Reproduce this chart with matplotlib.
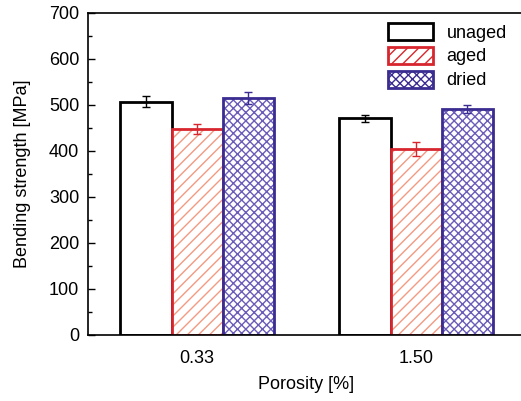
import matplotlib
matplotlib.use("Agg")
import matplotlib.pyplot as plt
from matplotlib.patches import Patch
from matplotlib.ticker import MultipleLocator
import numpy as np

plt.rcParams['font.family'] = ['Liberation Sans', 'DejaVu Sans']
plt.rcParams['hatch.linewidth'] = 1.0

porosity = ["0.33", "1.50"]
unaged = [507, 471]
unaged_err = [12, 8]
aged = [448, 404]
aged_err = [10, 15]
dried = [515, 492]
dried_err = [13, 9]

series = [
    ("unaged", unaged, unaged_err, "black", "black", ""),
    ("aged", aged, aged_err, "#d8262e", "#f29a82", "///"),
    ("dried", dried, dried_err, "#3a2c90", "#6a5cb8", "xxxx"),
]

fig = plt.figure(figsize=(5.21, 4.01), dpi=100)
ax = fig.add_axes([0.168, 0.1646, 0.8407, 0.803])

x = np.arange(len(porosity))
w = 0.233
handles = []
for i, (name, vals, errs, edge, hcol, hatch) in enumerate(series):
    pos = x + (i - 1) * w
    # hatch layer first, then outline on top
    if hatch:
        ax.bar(pos, vals, w, color="white", edgecolor=hcol, hatch=hatch, linewidth=0)
    ax.bar(pos, vals, w, color="none", edgecolor=edge, linewidth=2.0)
    ax.errorbar(pos, vals, yerr=errs, fmt="none", ecolor=edge, elinewidth=1.0,
                capsize=3, capthick=1.0)
    handles.append(Patch(facecolor="white", edgecolor=edge, hatch=hatch, linewidth=2.0))

ax.set_xlim(-0.5, 1.5)
ax.set_ylim(0, 700)
ax.set_xticks(x)
ax.set_xticklabels(porosity)
ax.yaxis.set_major_locator(MultipleLocator(100))
ax.yaxis.set_minor_locator(MultipleLocator(50))
ax.tick_params(axis="y", which="major", direction="in", length=5, width=1, labelsize=13, pad=6)
ax.tick_params(axis="y", which="minor", direction="in", length=3, width=1)
ax.tick_params(axis="x", length=0, labelsize=13, pad=11)
for s in ax.spines.values():
    s.set_linewidth(1.2)

ax.set_xlabel("Porosity [%]", fontsize=13, labelpad=6)
ax.set_ylabel("Bending strength [MPa]", fontsize=13, labelpad=13)

leg = ax.legend(handles, ["unaged", "aged", "dried"], loc="upper left",
                bbox_to_anchor=(0.686, 0.969), frameon=False, fontsize=13,
                borderpad=0, borderaxespad=0,
                handlelength=2.5, handleheight=1.05, labelspacing=0.3, handletextpad=0.75)

fig.savefig("out.png", dpi=100)
